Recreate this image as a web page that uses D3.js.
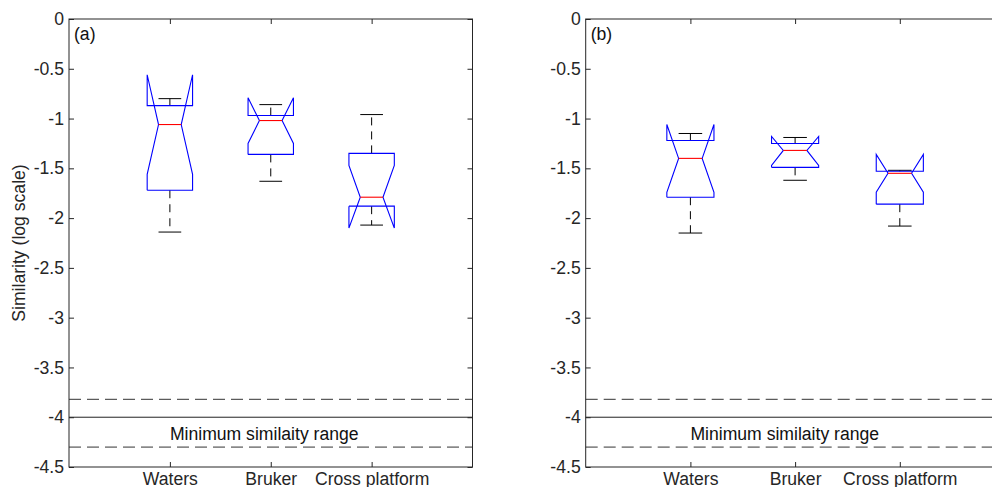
<!DOCTYPE html>
<html>
<head>
<meta charset="utf-8">
<script src="https://cdn.jsdelivr.net/npm/d3@7"></script>
<style>
body { margin: 0; background: #fff; }
svg { display: block; font-family: "Liberation Sans", Arial, Helvetica, sans-serif; }
</style>
</head>
<body>
<div id="chart"></div>
<script>
// categories and tick values
var categories = ["Waters", "Bruker", "Cross platform"];
var yTicks = [0, -0.5, -1, -1.5, -2, -2.5, -3, -3.5, -4, -4.5];

// panel (a) box statistics (log similarity)
var whiskerHiA = [-0.80, -0.86, -0.96];
var q3A        = [-0.87, -0.97, -1.35];
var medianA    = [-1.06, -1.02, -1.79];
var q1A        = [-1.72, -1.36, -1.88];
var whiskerLoA = [-2.14, -1.63, -2.07];
var notchHiA   = [-0.56, -0.79, -1.47];
var notchLoA   = [-1.56, -1.25, -2.10];

// panel (b)
var whiskerHiB = [-1.15, -1.19, -1.52];
var q3B        = [-1.22, -1.25, -1.53];
var medianB    = [-1.40, -1.32, -1.55];
var q1B        = [-1.79, -1.49, -1.86];
var whiskerLoB = [-2.15, -1.62, -2.08];
var notchHiB   = [-1.06, -1.18, -1.36];
var notchLoB   = [-1.74, -1.47, -1.74];

// minimum similarity range lines
var rangeDashed = [-3.82, -4.30];
var rangeSolid = [-4.0];
var rangeText = "Minimum similaity range";

var width = 992;
var height = 487;
var TOP = 19;
var BOTTOM = 467;
var BOXHALF = 0.225;
var TICK = 5;
var AXISCOLOR = "#262626";
var FONTSIZE = 17.6;

var svg = d3.select("#chart")
    .append("svg")
    .attr("width", width)
    .attr("height", height);

var y = d3.scaleLinear().domain([-4.5, 0]).range([BOTTOM, TOP]);

function drawPanel(left, right, label, s, showYLabel) {
    var x = d3.scaleLinear().domain([0, 4]).range([left, right]);
    var g = svg.append("g");

    // reference lines
    g.selectAll("line.dash")
        .data(rangeDashed)
        .enter()
        .append("line")
        .attr("x1", left).attr("x2", right)
        .attr("y1", function(d){ return y(d); })
        .attr("y2", function(d){ return y(d); })
        .attr("stroke", "#333")
        .attr("stroke-width", 1)
        .attr("stroke-dasharray", "12,6");

    g.selectAll("line.solid")
        .data(rangeSolid)
        .enter()
        .append("line")
        .attr("x1", left).attr("x2", right)
        .attr("y1", function(d){ return y(d); })
        .attr("y2", function(d){ return y(d); })
        .attr("stroke", "#222")
        .attr("stroke-width", 1);

    g.append("text")
        .attr("x", x(1))
        .attr("y", y(-4.23))
        .attr("font-size", FONTSIZE)
        .attr("fill", "#111")
        .text(rangeText);

    var boxes = categories.map(function(c, i) {
        return {
            pos: i + 1,
            hi: s.whiskerHi[i], q3: s.q3[i], med: s.median[i],
            q1: s.q1[i], lo: s.whiskerLo[i],
            nHi: s.notchHi[i], nLo: s.notchLo[i]
        };
    });

    var line = d3.line()
        .x(function(p){ return x(p[0]); })
        .y(function(p){ return y(p[1]); });

    boxes.forEach(function(b) {
        var c = b.pos, h = BOXHALF;
        // whiskers
        [[b.q3, b.hi], [b.q1, b.lo]].forEach(function(w) {
            g.append("line")
                .attr("x1", x(c)).attr("x2", x(c))
                .attr("y1", y(w[0])).attr("y2", y(w[1]))
                .attr("stroke", "#000")
                .attr("stroke-width", 1)
                .attr("stroke-dasharray", "8,6");
            g.append("line")
                .attr("x1", x(c - h / 2)).attr("x2", x(c + h / 2))
                .attr("y1", y(w[1])).attr("y2", y(w[1]))
                .attr("stroke", "#000")
                .attr("stroke-width", 1);
        });
        // notched box
        var pts = [
            [c - h, b.q1], [c - h, b.nLo], [c - h / 2, b.med], [c - h, b.nHi],
            [c - h, b.q3], [c + h, b.q3], [c + h, b.nHi], [c + h / 2, b.med],
            [c + h, b.nLo], [c + h, b.q1], [c - h, b.q1]
        ];
        g.append("path")
            .attr("d", line(pts))
            .attr("fill", "none")
            .attr("stroke", "#0000ff")
            .attr("stroke-width", 1.1);
        g.append("line")
            .attr("x1", x(c - h / 2)).attr("x2", x(c + h / 2))
            .attr("y1", y(b.med)).attr("y2", y(b.med))
            .attr("stroke", "#ff0000")
            .attr("stroke-width", 1.1);
    });

    // axes
    var xCat = d3.scaleLinear().domain([0, 4]).range([left, right]);
    var catTicks = [1, 2, 3];

    var axL = g.append("g").attr("transform", "translate(" + left + ",0)")
        .call(d3.axisLeft(y).tickValues(yTicks).tickSizeInner(-TICK).tickSizeOuter(0)
            .tickPadding(5).tickFormat(function(d){ return String(d); }));
    var axR = g.append("g").attr("transform", "translate(" + right + ",0)")
        .call(d3.axisRight(y).tickValues(yTicks).tickSizeInner(-TICK).tickSizeOuter(0)
            .tickFormat(""));
    var axT = g.append("g").attr("transform", "translate(0," + TOP + ")")
        .call(d3.axisTop(xCat).tickValues(catTicks).tickSizeInner(-TICK).tickSizeOuter(0)
            .tickFormat(""));
    var axB = g.append("g").attr("transform", "translate(0," + BOTTOM + ")")
        .call(d3.axisBottom(xCat).tickValues(catTicks).tickSizeInner(-TICK).tickSizeOuter(0)
            .tickPadding(6).tickFormat(function(d){ return categories[d - 1]; }));

    [axL, axR, axT, axB].forEach(function(a) {
        a.select(".domain").remove();
        a.selectAll("line").attr("stroke", AXISCOLOR);
        a.selectAll("text").attr("font-size", FONTSIZE).attr("fill", AXISCOLOR)
            .attr("font-family", null);
    });

    g.append("rect")
        .attr("x", left).attr("y", TOP)
        .attr("width", right - left).attr("height", BOTTOM - TOP)
        .attr("fill", "none")
        .attr("stroke", AXISCOLOR)
        .attr("stroke-width", 1);

    g.append("text")
        .attr("x", left + 5)
        .attr("y", 40)
        .attr("font-size", FONTSIZE)
        .attr("fill", "#111")
        .text(label);

    if (showYLabel) {
        svg.append("text")
            .attr("transform", "translate(25," + ((TOP + BOTTOM) / 2) + ") rotate(-90)")
            .attr("text-anchor", "middle")
            .attr("font-size", FONTSIZE)
            .attr("fill", AXISCOLOR)
            .text("Similarity (log scale)");
    }
}

drawPanel(69, 472.5, "(a)", {
    whiskerHi: whiskerHiA, q3: q3A, median: medianA, q1: q1A,
    whiskerLo: whiskerLoA, notchHi: notchHiA, notchLo: notchLoA
}, true);

drawPanel(585.7, 1004.5, "(b)", {
    whiskerHi: whiskerHiB, q3: q3B, median: medianB, q1: q1B,
    whiskerLo: whiskerLoB, notchHi: notchHiB, notchLo: notchLoB
}, false);
</script>
</body>
</html>
